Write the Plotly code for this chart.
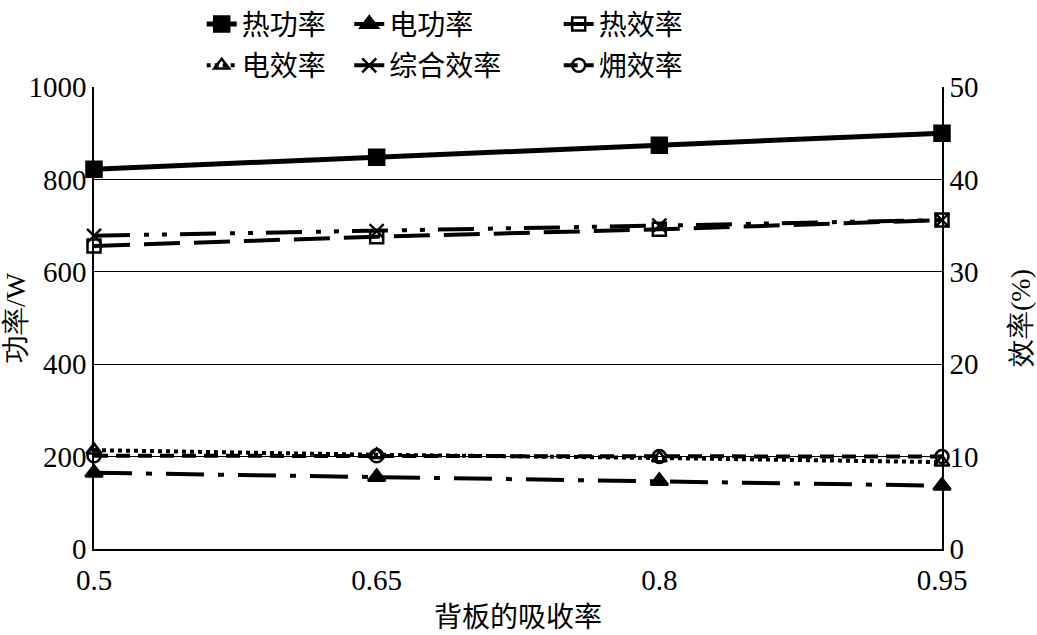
import plotly.graph_objects as go

x_vals = [0.5, 0.65, 0.8, 0.95]
x_labels = ["0.5", "0.65", "0.8", "0.95"]
heat_power = [822, 848, 874, 900]
elec_power = [165, 156, 147, 137]
heat_eff = [32.8, 33.8, 34.6, 35.6]
elec_eff = [10.7, 10.2, 9.85, 9.4]
total_eff = [33.9, 34.4, 35.0, 35.6]
exergy_eff = [10.1, 10.1, 10.0, 10.0]

names = ["热功率", "电功率", "热效率", "电效率", "综合效率", "㶲效率"]

CJK = "Noto Sans CJK SC"
NUM = "Liberation Serif"
K = "black"

fig = go.Figure()

def add(y, name, dash, symbol, size, yaxis, legend, width=4):
    fig.add_trace(go.Scatter(
        x=x_vals, y=y, name=name, mode="lines+markers",
        line=dict(color=K, width=width, dash=dash),
        marker=dict(symbol=symbol, size=size, color=K,
                    line=dict(color=K, width=2.5)),
        yaxis=yaxis, legend=legend, legendgroup=name, cliponaxis=False,
    ))

add(heat_power, names[0], "solid", "square", 15, "y", "legend", 5)
add(elec_power, names[1], "38px,14px,6px,14px", "triangle-up", 15, "y", "legend2")
add(heat_eff, names[2], "36px,14px", "square-open", 13, "y2", "legend3")
add(elec_eff, names[3], "4px,4px", "triangle-up-open", 13, "y2", "legend")
add(total_eff, names[4], "36px,14px,5px,13px,5px,13px", "x-thin-open", 14, "y2", "legend2")
add(exergy_eff, names[5], "14px,8px", "circle-open", 13, "y2", "legend3")

legend_common = dict(font=dict(family=CJK, size=28, color=K),
                     bgcolor="rgba(0,0,0,0)", xanchor="left", yanchor="top",
                     orientation="v", tracegroupgap=2, itemwidth=30,
                     xref="paper", yref="paper", y=1.19)

fig.update_layout(
    width=1037, height=635,
    margin=dict(l=94, r=95, t=87, b=86, autoexpand=False),
    paper_bgcolor="white", plot_bgcolor="white",
    font=dict(family=NUM, size=28, color=K),
    legend=dict(x=0.127, **legend_common),
    legend2=dict(x=0.301, **legend_common),
    legend3=dict(x=0.548, **legend_common),
    xaxis=dict(range=[0.5, 0.95], tickvals=x_vals, ticktext=x_labels,
               showgrid=False, showline=True, linecolor=K, linewidth=1.5,
               ticks="", tickfont=dict(family=NUM, size=29, color=K), automargin=False,
               ticklabelstandoff=4,
               title=dict(text="背板的吸收率", font=dict(family=CJK, size=28, color=K), standoff=18),
               zeroline=False),
    yaxis=dict(range=[0, 1000], dtick=200, showgrid=True, gridcolor=K, gridwidth=1.2,
               showline=True, linecolor=K, linewidth=1.5, ticks="", automargin=False,
               tickfont=dict(family=NUM, size=29, color=K), zeroline=False,
               title=dict(text="功率/W", font=dict(family=NUM, size=28, color=K), standoff=2)),
    yaxis2=dict(range=[0, 50], dtick=10, overlaying="y", side="right", showgrid=False,
                showline=True, linecolor=K, linewidth=1.5, ticks="", automargin=False,
                tickfont=dict(family=NUM, size=29, color=K), zeroline=False,
                title=dict(text="效率(%)", font=dict(family=NUM, size=28, color=K), standoff=33)),
)

fig.write_html("out.html", config={"displayModeBar": False},
               post_script="document.body.style.margin='0';")
